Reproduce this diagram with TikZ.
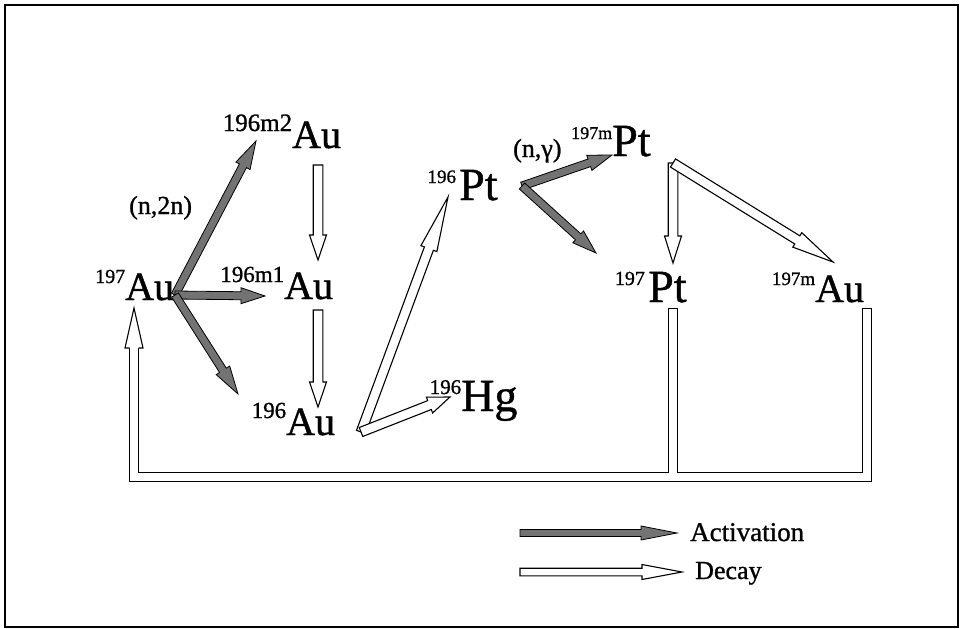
\documentclass[tikz,border=0pt]{standalone}
\usepackage{fontspec}
\setmainfont{Liberation Serif}[FakeBold=1]
\usetikzlibrary{calc}

\newcommand{\nucfont}{\fontsize{40}{42}\selectfont}
\newcommand{\ptfont}{\fontsize{46}{48}\selectfont}
% superscript hangs to the left of the symbol
\newcommand{\nuc}[3][22]{\llap{\raisebox{17pt}{\fontsize{#1}{#1}\selectfont #2}}#3}

% arrow sizes: half shaft, half head, head length
\def\arrsw{4.5pt}\def\arrhw{9pt}\def\arrhl{25pt}
\newcommand{\fatarrow}[3]{%
  \draw[#1] let \p1=#2, \p2=#3,
      \n1={atan2(\y2-\y1,\x2-\x1)}, \n2={veclen(\x2-\x1,\y2-\y1)} in
    [shift={(\p1)}, rotate=\n1]
    (0pt,-\arrsw) -- ({\n2*1pt-\arrhl},-\arrsw) -- ({\n2*1pt-\arrhl},-\arrhw)
    -- ({\n2*1pt},0pt) -- ({\n2*1pt-\arrhl},\arrhw) -- ({\n2*1pt-\arrhl},\arrsw)
    -- (0pt,\arrsw) -- cycle;}
\newcommand{\actarrow}[3][28pt]{{\def\arrsw{4pt}\def\arrhw{8pt}\def\arrhl{#1}\fatarrow{act}{#2}{#3}}}
\newcommand{\decarrow}[3][25pt]{{\def\arrsw{4.8pt}\def\arrhw{8.5pt}\def\arrhl{#1}\fatarrow{dec}{#2}{#3}}}

\begin{document}
\begin{tikzpicture}[x=1pt, y=-1pt,
    nuc/.style={inner sep=0pt, anchor=base west, font=\nucfont},
    lbl/.style={inner sep=0pt, anchor=base west, font=\fontsize{26}{28}\selectfont},
    act/.style={draw=black, fill=black!55, line width=0.8pt, line join=miter},
    dec/.style={draw=black, fill=white, line width=1.1pt, line join=miter},
    pipeout/.style={line width=10pt, line join=miter},
    pipein/.style={white, line width=7.2pt, line join=miter}
]
    \useasboundingbox (0,0) rectangle (961,629);
    \draw[line width=1.5pt] (5,5) rectangle (958,627);

    % nuclides
    \node[nuc] (au197)  at (125,300) {\nuc[20]{197}{Au}};
    \node[nuc] (au196b) at (292,148) {\nuc[25]{196m2}{Au}};
    \node[nuc] (au196a) at (284,299) {\nuc[23]{196m1}{Au}};
    \node[nuc] (au196)  at (286,435) {\nuc[23]{196}{Au}};
    \node[nuc, font=\ptfont] (pt196)  at (459,200) {\nuc[19]{196\,}{Pt}};
    \node[nuc, font=\ptfont] (hg196)  at (461,411) {\nuc[21]{196}{Hg}};
    \node[nuc, font=\ptfont] (pt197m) at (612,156) {\nuc[18]{197m}{Pt}};
    \node[nuc, font=\ptfont] (pt197)  at (648,302) {\nuc[20]{197\,}{Pt}};
    \node[nuc] (au197m) at (815,302) {\nuc[19]{197m}{Au}};
    \node[lbl] (n2n) at (129,214) {(n,2n)};
    \node[lbl] (ng)  at (513,157) {(n,γ)};

    % arrow ends
    \coordinate (au197-out) at (175,295);
    \coordinate (au196b-in) at (256,141);
    \coordinate (au196a-in) at (265,296);
    \coordinate (au196-in)  at (238,394);
    \coordinate (au196b-out) at (318,165);
    \coordinate (au196a-top) at (318,260);
    \coordinate (au196a-out) at (318,310);
    \coordinate (au196-top) at (318,407);
    \coordinate (au196-out) at (361,432);
    \coordinate (pt196-in)  at (448,197);
    \coordinate (hg196-in)  at (450,397);
    \coordinate (pt196-out) at (522,186);
    \coordinate (pt197m-in) at (612,155);
    \coordinate (pt197-top) at (596,253);
    \coordinate (pt197m-out) at (673,163);
    \coordinate (pt197-in)  at (673,263);
    \coordinate (au197m-in) at (833,262);

    % activation
    \actarrow{(au197-out)}{(au196b-in)}
    \actarrow[24pt]{(au197-out)}{(au196a-in)}
    \actarrow{(au197-out)}{(au196-in)}
    \actarrow[24pt]{(pt196-out)}{(pt197m-in)}
    \actarrow[24pt]{(pt196-out)}{(pt197-top)}

    % decay
    \decarrow{(au196b-out)}{(au196a-top)}
    \decarrow{(au196a-out)}{(au196-top)}
    \decarrow[55pt]{(au196-out)}{(pt196-in)}
    \decarrow[22pt]{(au196-out)}{(hg196-in)}
    \decarrow[27pt]{(pt197m-out)}{(pt197-in)}
    \decarrow[42pt]{(pt197m-out)}{(au197m-in)}

    % return line back to 197Au
    \coordinate (pt197-foot)  at (673,308);
    \coordinate (au197m-foot) at (867,308);
    \coordinate (bus-r) at (867,477);
    \coordinate (bus-l) at (134,477);
    \coordinate (au197-in) at (134,308);
    \coordinate (au197-head) at ($(au197-in)+(0,40)$);
    \draw[pipeout] (au197m-foot) -- (bus-r) -- (bus-l) -- (au197-head);
    \draw[pipeout] (pt197-foot) -- (pt197-foot |- bus-r);
    \draw[pipein, shorten <=1.4pt] (au197m-foot) -- (bus-r) -- (bus-l) -- (au197-head);
    \draw[pipein, shorten <=1.4pt] (pt197-foot) -- (pt197-foot |- bus-r);
    \filldraw[dec] ($(au197-head)+(-4.5,0)$) -- ($(au197-head)+(-9,0)$) -- (au197-in)
        -- ($(au197-head)+(9,0)$) -- ($(au197-head)+(4.5,0)$);

    % legend
    \coordinate (leg-a) at (520,533);
    \coordinate (leg-a-end) at (677,533);
    \coordinate (leg-d) at (520,572);
    \coordinate (leg-d-end) at (682,572);
    {\def\arrsw{3.5pt}\def\arrhw{7pt}\def\arrhl{36pt}\fatarrow{act}{(leg-a)}{(leg-a-end)}}
    {\def\arrsw{3.8pt}\def\arrhw{7.5pt}\def\arrhl{40pt}\fatarrow{dec}{(leg-d)}{(leg-d-end)}}
    \node[lbl, font=\fontsize{27}{28}\selectfont] (actlbl) at (690,541) {Activation};
    \node[lbl] (declbl) at (695,579) {Decay};
\end{tikzpicture}
\end{document}
